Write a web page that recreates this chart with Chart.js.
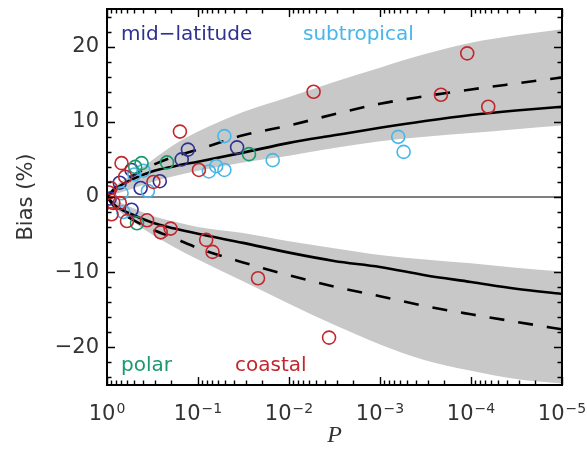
<!DOCTYPE html>
<html>
<head>
<meta charset="utf-8">
<script src="https://cdn.jsdelivr.net/npm/chart.js@4"></script>
<style>
  html, body { margin: 0; padding: 0; background: #fff; }
  #wrap { width: 587px; height: 451px; position: relative; }
</style>
</head>
<body>
<div id="wrap"><canvas id="c"></canvas></div>
<script>
// ── data ─────────────────────────────────────────────

// P grid for the model curves
const curveP = [1, 0.8, 0.56, 0.32, 0.18, 0.1, 0.032, 0.01, 0.0032, 0.001, 3.2e-4, 1e-4, 3.2e-5, 1e-5];

const upperBandTop    = [0, 1.5, 2.8, 4.9, 7.0, 8.7, 11.3, 13.3, 15.3, 17.2, 19.0, 20.5, 21.5, 22.3];
const upperBandBottom = [0, 0.4, 1.0, 2.0, 2.8, 3.5, 4.6, 5.5, 6.5, 7.4, 8.0, 8.5, 9.0, 9.5];
const upperSolid      = [0, 1.1, 2.2, 3.4, 4.1, 4.7, 5.9, 7.2, 8.2, 9.2, 10.1, 10.9, 11.5, 12.0];
const upperDashed     = [0, 1.3, 2.6, 4.2, 5.4, 6.3, 8.2, 9.5, 11.0, 12.4, 13.4, 14.3, 15.1, 15.9];

const lowerBandTop    = [0, -0.5, -1.3, -2.5, -3.3, -4.0, -4.8, -5.9, -6.8, -7.7, -8.3, -8.8, -9.4, -9.9];
const lowerBandBottom = [0, -1.5, -3.0, -5.0, -6.7, -8.3, -11.2, -14.2, -17.0, -19.6, -21.7, -23.1, -24.2, -24.8];
const lowerSolid      = [0, -1.2, -2.2, -3.4, -4.2, -4.9, -6.1, -7.4, -8.5, -9.3, -10.4, -11.3, -12.2, -12.9];
const lowerDashed     = [0, -1.5, -2.8, -4.3, -5.5, -6.8, -8.7, -10.4, -11.9, -13.2, -14.5, -15.6, -16.6, -17.6];

// station groups
const coastalP    = [0.158, 0.00537, 2.14e-4, 1.10e-4, 6.46e-5, 0.0977, 0.309, 0.692, 0.631, 0.912, 0.955,
                     0.851, 0.724, 0.891, 0.603, 0.363, 0.257, 0.200, 0.0813, 0.0692, 0.0219, 0.00363];
const coastalBias = [8.7, 14.0, 13.6, 19.1, 12.0, 3.6, 2.0, 4.5, 2.7, 1.2, 0.6,
                     -0.8, -0.8, -2.3, -3.2, -3.1, -4.7, -4.2, -5.7, -7.3, -10.8, -18.7];

const midlatP     = [0.129, 0.151, 0.0372, 0.263, 0.427, 0.537, 0.724, 0.537, 0.933];
const midlatBias  = [6.3, 5.0, 6.6, 2.1, 1.2, 3.6, 1.9, -1.7, -0.2];

const subtropP    = [0.0513, 0.0759, 0.0631, 0.0513, 0.0151, 6.31e-4, 5.50e-4, 0.692, 0.355, 0.398, 0.501, 0.661];
const subtropBias = [8.1, 3.4, 4.1, 3.6, 4.9, 8.0, 6.0, 0.5, 0.8, 3.5, 3.0, -2.0];

const polarP      = [0.490, 0.417, 0.219, 0.0275, 0.468];
const polarBias   = [4.0, 4.5, 4.6, 5.7, -3.5];

const zeroP    = [1, 1e-5];
const zeroBias = [0, 0];

// axes
const xTicks         = [1, 1e-1, 1e-2, 1e-3, 1e-4, 1e-5];
const xTickBase      = '10';
const xTickExponents = ['0', '−1', '−2', '−3', '−4', '−5'];
const yTicks         = [-20, -10, 0, 10, 20];
const yTickLabels    = ['−20', '−10', '0', '10', '20'];

// ── colours ─────────────────────────
const RED   = '#c1272d';
const NAVY  = '#2e3192';
const SKY   = '#45b7ea';
const GREEN = '#1a9a6c';
const BAND  = '#c8c8c8';
const INK   = '#333';
const SANS  = "'DejaVu Sans', sans-serif";

const pts = (xs, ys) => xs.map((x, i) => ({ x, y: ys[i] }));

function stations(data, color) {
  return {
    data, order: 0, showLine: false,
    pointRadius: 6.5, pointHoverRadius: 6.5,
    pointBackgroundColor: 'rgba(0,0,0,0)',
    pointBorderColor: color, pointBorderWidth: 1.6,
  };
}

function curve(data, dashed) {
  return {
    data, order: 1, showLine: true, pointRadius: 0,
    borderColor: '#000', borderWidth: 2.6,
    borderDash: dashed ? [15, 14] : [],
    cubicInterpolationMode: 'monotone',
  };
}

function bandEdge(data, fill) {
  return {
    data, order: 3, showLine: true, pointRadius: 0,
    borderWidth: 0, borderColor: BAND, backgroundColor: BAND,
    fill, cubicInterpolationMode: 'monotone',
  };
}

// labels may overhang the plot frame, so no extra padding from the scales
function noOverhang(s) {
  s.paddingLeft = 0; s.paddingRight = 0;
  s.paddingTop = 0; s.paddingBottom = 0;
}

// inward ticks on all four sides + frame
const frame = {
  id: 'frame',
  afterDatasetsDraw(chart) {
    const { ctx, chartArea: a, scales: { x, y } } = chart;
    ctx.save();
    ctx.strokeStyle = '#000';
    ctx.lineWidth = 1.4;
    ctx.beginPath();
    for (let d = 0; d >= -5; d--) {
      for (let m = 1; m <= 9; m++) {
        const v = m * Math.pow(10, d);
        if (v > 1 || v < 1e-5) continue;
        const px = Math.round(x.getPixelForValue(v)) + 0.5;
        const len = m === 1 ? 8 : 4.5;
        ctx.moveTo(px, a.bottom); ctx.lineTo(px, a.bottom - len);
        ctx.moveTo(px, a.top);    ctx.lineTo(px, a.top + len);
      }
    }
    for (let v = -24; v <= 24; v += 2) {
      const py = Math.round(y.getPixelForValue(v)) + 0.5;
      const len = v % 10 === 0 ? 8 : 4.5;
      ctx.moveTo(a.left, py);  ctx.lineTo(a.left + len, py);
      ctx.moveTo(a.right, py); ctx.lineTo(a.right - len, py);
    }
    ctx.stroke();
    ctx.lineWidth = 2;
    ctx.strokeRect(a.left, a.top, a.right - a.left, a.bottom - a.top);
    ctx.restore();
  }
};

// 10^n labels with a real raised exponent
const decadeLabels = {
  id: 'decadeLabels',
  afterDraw(chart) {
    const { ctx, chartArea: a, scales: { x } } = chart;
    ctx.save();
    ctx.fillStyle = INK;
    ctx.textBaseline = 'alphabetic';
    ctx.textAlign = 'left';
    xTicks.forEach((v, i) => {
      const px = x.getPixelForValue(v);
      ctx.font = '21px ' + SANS;
      const wb = ctx.measureText(xTickBase).width;
      ctx.font = '14px ' + SANS;
      const we = ctx.measureText(xTickExponents[i]).width;
      const left = px - (wb + 1 + we) / 2;
      ctx.font = '21px ' + SANS;
      ctx.fillText(xTickBase, left, a.bottom + 35);
      ctx.font = '14px ' + SANS;
      ctx.fillText(xTickExponents[i], left + wb + 1, a.bottom + 28);
    });
    ctx.restore();
  }
};

// group labels inside the plot
const groupLabels = {
  id: 'groupLabels',
  afterDraw(chart) {
    const { ctx } = chart;
    ctx.save();
    ctx.font = '20px ' + SANS;
    ctx.textBaseline = 'alphabetic';
    ctx.textAlign = 'left';
    ctx.fillStyle = NAVY;  ctx.fillText('mid−latitude', 121, 40);
    ctx.fillStyle = SKY;   ctx.fillText('subtropical', 303, 40);
    ctx.fillStyle = GREEN; ctx.fillText('polar', 121, 371);
    ctx.fillStyle = RED;   ctx.fillText('coastal', 235, 371);
    ctx.restore();
  }
};

new Chart(document.getElementById('c'), {
  type: 'scatter',
  data: {
    datasets: [
      stations(pts(coastalP, coastalBias), RED),
      stations(pts(polarP, polarBias), GREEN),
      stations(pts(subtropP, subtropBias), SKY),
      stations(pts(midlatP, midlatBias), NAVY),
      curve(pts(curveP, upperSolid), false),
      curve(pts(curveP, upperDashed), true),
      curve(pts(curveP, lowerSolid), false),
      curve(pts(curveP, lowerDashed), true),
      { data: pts(zeroP, zeroBias), order: 2, showLine: true, pointRadius: 0, borderColor: '#000', borderWidth: 1.2 },
      bandEdge(pts(curveP, upperBandTop), '+1'),
      bandEdge(pts(curveP, upperBandBottom), false),
      bandEdge(pts(curveP, lowerBandTop), '+1'),
      bandEdge(pts(curveP, lowerBandBottom), false),
    ]
  },
  options: {
    responsive: true,
    maintainAspectRatio: false,
    animation: false,
    layout: { padding: { top: 9, right: 25, left: 0, bottom: 0 } },
    plugins: { legend: { display: false }, tooltip: { enabled: false } },
    scales: {
      x: {
        type: 'logarithmic',
        min: 1e-5, max: 1,
        reverse: true,
        afterBuildTicks: s => { s.ticks = xTicks.map(v => ({ value: v, major: true })); },
        afterFit: s => { s.height = 66; noOverhang(s); },
        grid: { display: false, drawTicks: false },
        border: { display: false },
        ticks: { display: false },
        title: {
          display: true, text: 'P', color: INK,
          font: { family: "'Liberation Serif', serif", style: 'italic', size: 24 },
          padding: { top: 0, bottom: 1 },
        },
      },
      y: {
        min: -25, max: 25,
        afterBuildTicks: s => { s.ticks = yTicks.map(v => ({ value: v })); },
        afterFit: s => { s.width = 107; noOverhang(s); },
        grid: { display: false, drawTicks: false },
        border: { display: false },
        ticks: {
          padding: 8, color: INK,
          font: { family: SANS, size: 21 },
          callback: (v, i) => yTickLabels[i],
        },
        title: {
          display: true, text: 'Bias (%)', color: INK,
          font: { family: SANS, size: 21 },
          padding: { top: 14, bottom: 0 },
        },
      },
    },
  },
  plugins: [frame, decadeLabels, groupLabels],
});
</script>
</body>
</html>
